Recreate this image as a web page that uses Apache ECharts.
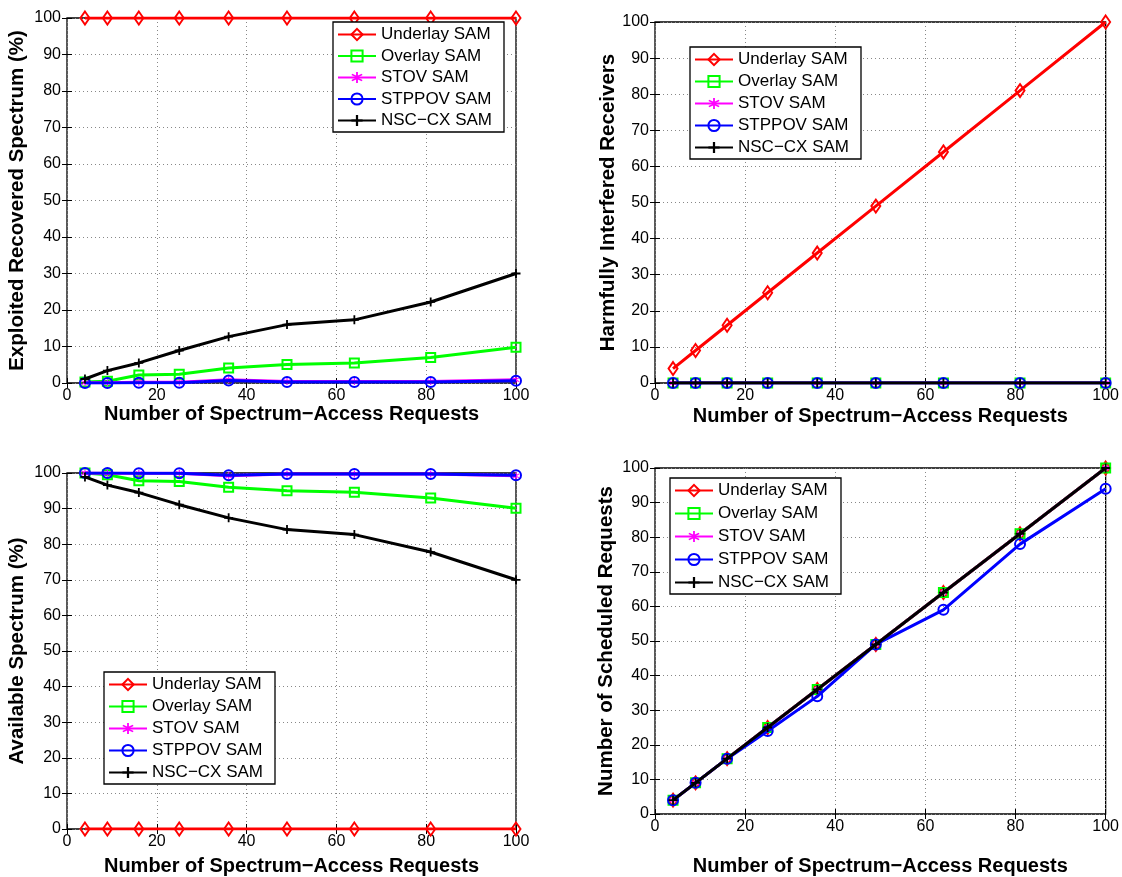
<!DOCTYPE html>
<html>
<head>
<meta charset="utf-8">
<script src="https://cdn.jsdelivr.net/npm/echarts@6/dist/echarts.min.js"></script>
<style>
html,body{margin:0;padding:0;background:#fff;}
#chart{width:1122px;height:877px;}
</style>
</head>
<body>
<div id="chart"></div>
<script>
// ---------- DATA ----------
const xRequests = [4, 9, 16, 25, 36, 49, 64, 81, 100];
const seriesNames = ['Underlay SAM', 'Overlay SAM', 'STOV SAM', 'STPPOV SAM', 'NSC\u2212CX SAM'];
const xTicks = [0, 20, 40, 60, 80, 100];
const yTicks = [0, 10, 20, 30, 40, 50, 60, 70, 80, 90, 100];

// Panel 1: Exploited Recovered Spectrum (%)
const exploitedUnderlay = [100, 100, 100, 100, 100, 100, 100, 100, 100];
const exploitedOverlay  = [0.3, 0.5, 2.2, 2.4, 4.1, 5.1, 5.5, 7.0, 9.8];
const exploitedSTOV     = [0.1, 0.1, 0.2, 0.2, 0.9, 0.4, 0.4, 0.4, 0.9];
const exploitedSTPPOV   = [0.0, 0.0, 0.1, 0.1, 0.7, 0.3, 0.3, 0.3, 0.6];
const exploitedNSC      = [1.1, 3.4, 5.5, 8.9, 12.7, 16.0, 17.3, 22.2, 30.0];

// Panel 2: Harmfully Interfered Receivers
const harmUnderlay = [4, 9, 16, 25, 36, 49, 64, 81, 100];
const harmOverlay  = [0, 0, 0, 0, 0, 0, 0, 0, 0];
const harmSTOV     = [0, 0, 0, 0, 0, 0, 0, 0, 0];
const harmSTPPOV   = [0, 0, 0, 0, 0, 0, 0, 0, 0];
const harmNSC      = [0, 0, 0, 0, 0, 0, 0, 0, 0];

// Panel 3: Available Spectrum (%)
const availUnderlay = [0, 0, 0, 0, 0, 0, 0, 0, 0];
const availOverlay  = [100, 99.5, 97.8, 97.6, 96.0, 95.0, 94.6, 93.0, 90.1];
const availSTOV     = [100, 99.9, 99.9, 99.9, 99.2, 99.7, 99.7, 99.7, 99.2];
const availSTPPOV   = [100, 100, 99.9, 99.9, 99.4, 99.7, 99.7, 99.7, 99.4];
const availNSC      = [98.9, 96.6, 94.5, 91.1, 87.4, 84.1, 82.7, 77.8, 70.0];

// Panel 4: Number of Scheduled Requests
const schedUnderlay = [4, 9, 16, 25, 36, 49, 64, 81, 100];
const schedOverlay  = [4, 9, 16, 25, 36, 49, 64, 81, 100];
const schedSTOV     = [4, 9, 16, 25, 36, 49, 64, 81, 100];
const schedSTPPOV   = [4, 9, 16, 24, 34, 49, 59, 78, 94];
const schedNSC      = [4, 9, 16, 25, 36, 49, 64, 81, 100];

const yTitles = ['Exploited Recovered Spectrum (%)', 'Harmfully Interfered Receivers', 'Available Spectrum (%)', 'Number of Scheduled Requests'];
const xTitle = 'Number of Spectrum\u2212Access Requests';

// ---------- STYLE ----------
const FONT = '"Liberation Sans", Arial, Helvetica, sans-serif';
const colors = ['#ff0000', '#00ff00', '#ff00ff', '#0000ff', '#000000'];
const plusPath = 'path://M4,0 L6,0 L6,4 L10,4 L10,6 L6,6 L6,10 L4,10 L4,6 L0,6 L0,4 L4,4 Z';
const starPath = 'path://M4.3,0 L5.7,0 L5.7,3.3 L8.6,1.6 L9.3,2.8 L6.4,4.5 L6.4,5.5 L9.3,7.2 L8.6,8.4 L5.7,6.7 L5.7,10 L4.3,10 L4.3,6.7 L1.4,8.4 L0.7,7.2 L3.6,5.5 L3.6,4.5 L0.7,2.8 L1.4,1.6 L4.3,3.3 Z';
const symbols = ['diamond', 'rect', starPath, 'circle', plusPath];
const symbolSizes = [[9, 13], 9, 7, 10, 9];
const symbolFills = ['rgba(255,255,255,0)', 'rgba(255,255,255,0)', '#ff00ff', 'rgba(255,255,255,0)', '#000000'];
const symbolBorders = [2, 2, 0, 2, 0];

const grids = [
  {left: 67, top: 18, width: 449, height: 365},
  {left: 655, top: 22, width: 451, height: 361},
  {left: 67, top: 473, width: 449, height: 362},
  {left: 655, top: 468, width: 451, height: 352}
];
const xNameGaps = [21, 23, 27, 42];
const yNameGaps = [39, 32, 39, 38];
const legendPos = [
  {left: 333, top: 22},
  {left: 690, top: 47},
  {left: 104, top: 672},
  {left: 670, top: 478}
];
const legendGaps = [4.5, 5, 5, 6];

const panels = [
  [exploitedUnderlay, exploitedOverlay, exploitedSTOV, exploitedSTPPOV, exploitedNSC],
  [harmUnderlay, harmOverlay, harmSTOV, harmSTPPOV, harmNSC],
  [availUnderlay, availOverlay, availSTOV, availSTPPOV, availNSC],
  [schedUnderlay, schedOverlay, schedSTOV, schedSTPPOV, schedNSC]
];

const option = {
  backgroundColor: '#ffffff',
  animation: false,
  textStyle: {fontFamily: FONT},
  grid: grids.map(g => Object.assign({show: true, borderColor: '#000', borderWidth: 1.3, backgroundColor: 'transparent'}, g)),
  xAxis: [],
  yAxis: [],
  legend: [],
  series: []
};

grids.forEach((g, i) => {
  option.xAxis.push({
    type: 'value', gridIndex: i, min: 0, max: 100, interval: 20, position: 'bottom',
    name: xTitle, nameLocation: 'middle', nameGap: xNameGaps[i],
    nameTextStyle: {fontSize: 20, fontWeight: 'bold', color: '#000', fontFamily: FONT},
    axisLine: {show: false},
    axisTick: {show: true, inside: true, length: 5, lineStyle: {color: '#000'}},
    axisLabel: {fontSize: 16, color: '#000', margin: 5, fontFamily: FONT},
    splitLine: {show: true, lineStyle: {color: '#888', type: [1, 3], width: 1}}
  });
  option.yAxis.push({
    type: 'value', gridIndex: i, min: 0, max: 100, interval: 10, position: 'left',
    name: yTitles[i], nameLocation: 'middle', nameGap: yNameGaps[i],
    nameTextStyle: {fontSize: 20.5, fontWeight: 'bold', color: '#000', fontFamily: FONT},
    axisLine: {show: false},
    axisTick: {show: true, inside: true, length: 5, lineStyle: {color: '#000'}},
    axisLabel: {fontSize: 16, color: '#000', margin: 6, fontFamily: FONT},
    splitLine: {show: true, lineStyle: {color: '#888', type: [1, 3], width: 1}}
  });
});
// mirrored tick axes (top / right)
grids.forEach((g, i) => {
  option.xAxis.push({
    type: 'value', gridIndex: i, min: 0, max: 100, interval: 20, position: 'top',
    axisLine: {show: false}, axisLabel: {show: false}, splitLine: {show: false},
    axisTick: {show: true, inside: true, length: 5, lineStyle: {color: '#000'}}
  });
  option.yAxis.push({
    type: 'value', gridIndex: i, min: 0, max: 100, interval: 10, position: 'right',
    axisLine: {show: false}, axisLabel: {show: false}, splitLine: {show: false},
    axisTick: {show: true, inside: true, length: 5, lineStyle: {color: '#000'}}
  });
});

grids.forEach((g, i) => {
  option.legend.push({
    left: legendPos[i].left, top: legendPos[i].top,
    orient: 'vertical', data: seriesNames,
    backgroundColor: '#fff', borderColor: '#000', borderWidth: 1.3,
    padding: [4, 12, 3, 4], itemGap: legendGaps[i], itemWidth: 38, itemHeight: 14,
    textStyle: {fontSize: 17, color: '#000', fontFamily: FONT},
    selectedMode: false
  });
  panels[i].forEach((vals, k) => {
    option.series.push({
      type: 'line', name: seriesNames[k], xAxisIndex: i, yAxisIndex: i,
      data: xRequests.map((x, j) => [x, vals[j]]),
      symbol: symbols[k], symbolSize: symbolSizes[k], showAllSymbol: true,
      lineStyle: {color: colors[k], width: 3},
      itemStyle: {color: symbolFills[k], borderColor: colors[k], borderWidth: symbolBorders[k]},
      z: 2 + k
    });
  });
});

const chart = echarts.init(document.getElementById('chart'), null, {renderer: 'canvas'});
chart.setOption(option);
</script>
</body>
</html>
